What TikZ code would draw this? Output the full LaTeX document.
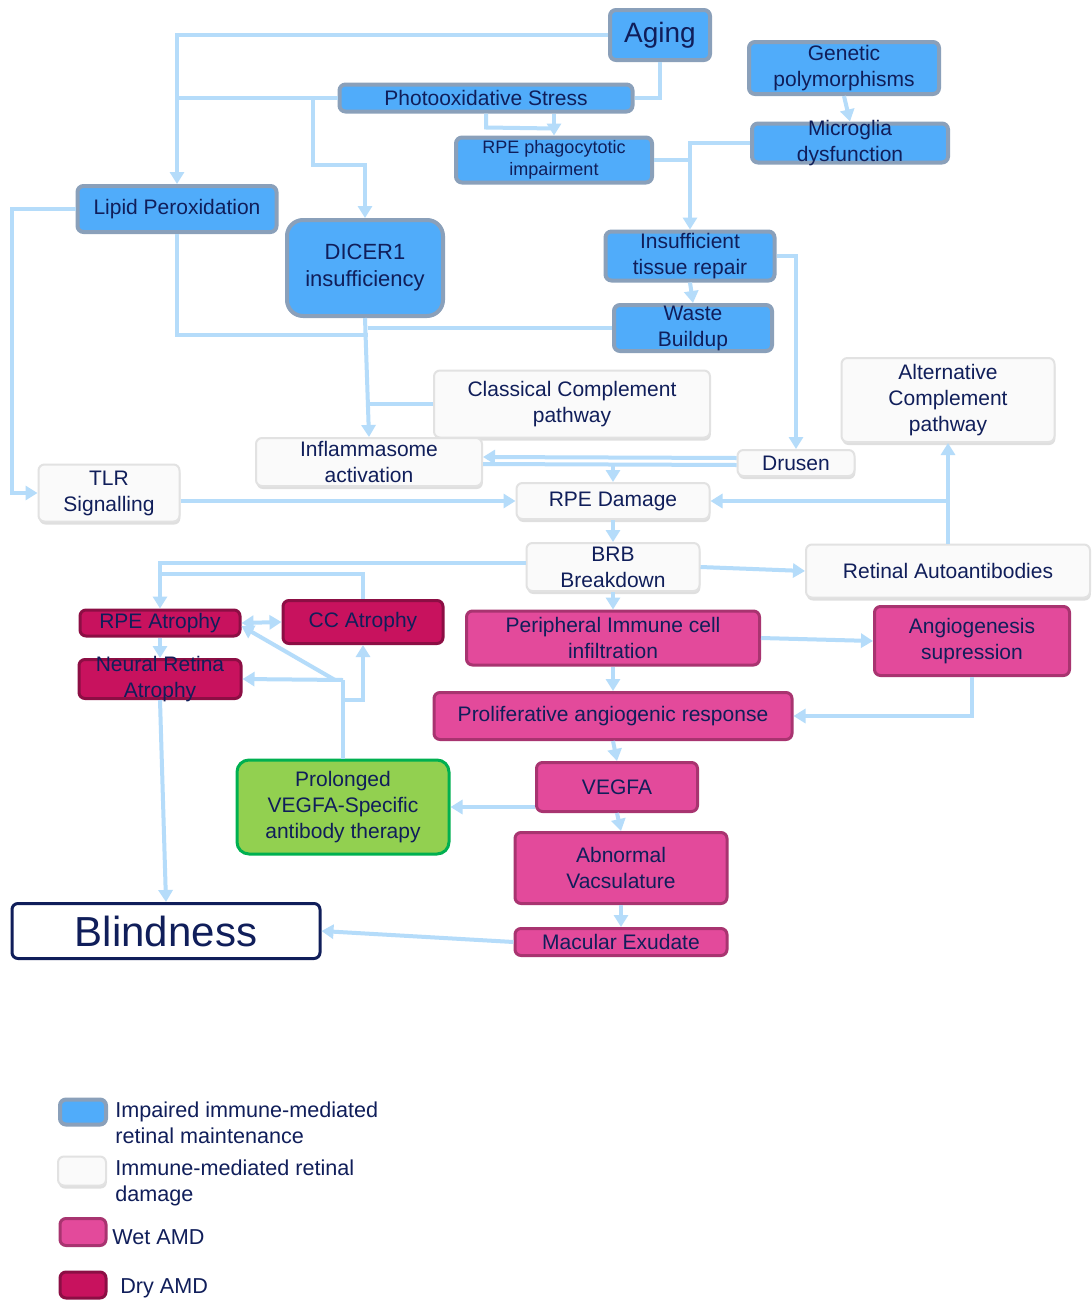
\documentclass[tikz,border=0pt]{standalone}
\usepackage{fontspec}
\setmainfont{Liberation Sans}
\usepackage{xcolor}
\usetikzlibrary{positioning}
\usetikzlibrary{arrows.meta,shadows}

\definecolor{linkblue}{RGB}{181,220,250}
\definecolor{cellblue}{RGB}{80,172,250}
\definecolor{cellblueedge}{RGB}{138,160,186}
\definecolor{cellwhite}{RGB}{250,250,250}
\definecolor{cellwhiteedge}{RGB}{226,226,226}
\definecolor{wetpink}{RGB}{227,74,155}
\definecolor{wetpinkedge}{RGB}{168,52,112}
\definecolor{drypink}{RGB}{200,18,94}
\definecolor{drypinkedge}{RGB}{140,14,68}
\definecolor{therapyfill}{RGB}{146,208,80}
\definecolor{therapyedge}{RGB}{0,176,80}
\definecolor{navytext}{RGB}{16,30,90}

\begin{document}
\begin{tikzpicture}[x=0.5pt,y=-0.5pt,
  wh/.style 2 args={minimum width=#1*0.5pt,minimum height=#2*0.5pt},
  cell/.style={rounded corners=3pt,align=center,inner sep=0pt,text=navytext,font=\fontsize{10.5}{13}\selectfont},
  impaired/.style={cell,fill=cellblue,draw=cellblueedge,line width=2pt},
  damage/.style={cell,fill=cellwhite,draw=cellwhiteedge,line width=1pt,drop shadow={opacity=0.25,shadow xshift=0.4pt,shadow yshift=-1.5pt}},
  wetamd/.style={cell,fill=wetpink,draw=wetpinkedge,line width=1.5pt},
  dryamd/.style={cell,fill=drypink,draw=drypinkedge,line width=1.5pt},
  keytext/.style={anchor=west,align=left,inner sep=0pt,text=navytext,font=\fontsize{10.8}{13}\selectfont},
  link/.style={draw=linkblue,line width=2pt},
  arr/.style={link,-{Triangle[width=7pt,length=6pt]}},
  dblarr/.style={link,{Triangle[width=7pt,length=6pt]}-{Triangle[width=7pt,length=6pt]}}
]
\fill[white] (0,0) rectangle (1092,1301);
\useasboundingbox (0,0) rectangle (1092,1301);

% impaired immune-mediated retinal maintenance
\node[impaired,wh={100}{50},font=\fontsize{14}{16}\selectfont] (aging) at (660,35) {Aging};
\node[impaired,wh={293}{27}] (photo) at (486,98) {Photooxidative Stress};
\node[impaired,wh={190}{52}] (genetic) at (844,68) {Genetic\\polymorphisms};
\node[impaired,wh={196}{39},inner ysep=-3pt] (microglia) at (850,143) {Microglia\\dysfunction};
\node[impaired,wh={196}{45},font=\fontsize{9}{11}\selectfont] (phago) at (554,160) {RPE phagocytotic\\impairment};
\node[impaired,wh={199}{46}] (lipid) at (177,209) {Lipid Peroxidation};
\node[impaired,wh={156}{96},rounded corners=8pt,font=\fontsize{11}{13.5}\selectfont] (dicer) at (365,268) {DICER1\\insufficiency};
\node[impaired,wh={169}{49}] (repair) at (690,256) {Insufficient\\tissue repair};
\node[impaired,wh={158}{46}] (waste) at (693,328) {Waste\\Buildup};

% immune-mediated retinal damage
\node[damage,wh={276}{67}] (classical) at (572,404) {Classical Complement\\pathway};
\node[damage,wh={213}{84}] (alternative) at (948,400) {Alternative\\Complement\\pathway};
\node[damage,wh={226}{48}] (inflamm) at (369,462) {Inflammasome\\activation};
\node[damage,wh={117}{26}] (drusen) at (796,463) {Drusen};
\node[damage,wh={141}{57}] (tlr) at (109,493) {TLR\\Signalling};
\node[damage,wh={193}{36}] (rpedmg) at (613,501) {RPE Damage};
\node[damage,wh={173}{48}] (brb) at (613,567) {BRB\\Breakdown};
\node[damage,wh={284}{53}] (autoab) at (948,571) {Retinal Autoantibodies};

% wet AMD
\node[wetamd,wh={293}{54}] (immune) at (613,638) {Peripheral Immune cell\\infiltration};
\node[wetamd,wh={195}{69}] (supress) at (972,641) {Angiogenesis\\supression};
\node[wetamd,wh={358}{47}] (prolif) at (613,716) {Proliferative angiogenic response};
\node[wetamd,wh={161}{49}] (vegfa) at (617,787) {VEGFA};
\node[wetamd,wh={212}{71}] (abnormal) at (621,868) {Abnormal\\Vacsulature};
\node[wetamd,wh={212}{27}] (exudate) at (621,942) {Macular Exudate};

% dry AMD
\node[dryamd,wh={160}{26}] (rpeatr) at (160,623) {RPE Atrophy};
\node[dryamd,wh={160}{43}] (ccatr) at (363,622) {CC Atrophy};
\node[dryamd,wh={162}{39},inner ysep=-3pt] (neuralatr) at (160,679) {Neural Retina\\Atrophy};

\node[cell,fill=therapyfill,draw=therapyedge,line width=1.5pt,rounded corners=6pt,wh={212}{94}] (therapy) at (343,807) {Prolonged\\VEGFA-Specific\\antibody therapy};
\node[cell,fill=white,draw=navytext,line width=1.5pt,wh={308}{55},font=\fontsize{21}{24}\selectfont] (blind) at (166,931) {Blindness};

% junctions
\coordinate (jleft) at (177,98);
\coordinate (jdicer) at (313,98);
\coordinate (jinfl) at (368,335);
\coordinate (jdmg) at (613,465);
\coordinate (jcc) at (160,574);
\coordinate (jther) at (343,680);
\coordinate (jccup) at (343,700);

% connectors
\draw[arr] (aging.west) -| (lipid.north);
\draw[link] (aging.south) |- (photo.east);
\draw[link] (photo.west) -- (jleft);
\draw[arr] (jdicer) -- ++(0,67) -| (dicer.north);
\draw[link] (photo.south) -- ++(0,14) -- ++(68,1);
\draw[arr] (phago.north |- photo.south) -- (phago.north);
\draw[link] (phago.east) -- (phago.east -| repair.north);
\draw[arr] (microglia.west) -| (repair.north);
\draw[arr] (genetic.south) -- (microglia.north);
\draw[arr] (repair.south) -- (waste.north);
\draw[arr] (repair.east) -| (drusen.north);
\draw[link] (lipid.south) |- (jinfl);
\draw[link] (waste.west) -- (waste.west -| jinfl);
\draw[link] (classical.west) -- (classical.west -| jinfl);
\draw[arr] (dicer.south) -- (inflamm.north);
\draw[arr] (lipid.west) -- ++(-64,0) |- (tlr.west);
\draw[arr] ([yshift=2.5pt]drusen.west) -- ([yshift=2.5pt]inflamm.east);
\draw[link] ([yshift=-1pt]drusen.west) -- ([yshift=-1pt]inflamm.east);
\draw[arr] (jdmg) -- (rpedmg.north);
\draw[arr] (tlr.east |- rpedmg.west) -- (rpedmg.west);
\draw[arr] (autoab.north) -- (alternative.south);
\draw[arr] (autoab.north |- rpedmg.east) -- (rpedmg.east);
\draw[arr] (rpedmg.south) -- (brb.north);
\draw[arr] (brb.east) -- (autoab.west);
\draw[arr] ([yshift=2pt]brb.west) -| (rpeatr.north);
\draw[link] (jcc) -| (ccatr.north);
\draw[arr] (brb.south) -- (immune.north);
\draw[arr] (rpeatr.south) -- (neuralatr.north);
\draw[dblarr] (rpeatr.east) -- (ccatr.west);
\draw[link] (therapy.north) -- (jther);
\draw[arr] (jther) -- (neuralatr.east);
\draw[arr] ([xshift=-4pt]jther) -- ([yshift=-1.5pt]rpeatr.east);
\draw[arr] (jccup) -| (ccatr.south);
\draw[arr] (neuralatr.south) -- (blind.north);
\draw[arr] (immune.east) -- (supress.west);
\draw[arr] (immune.south) -- (prolif.north);
\draw[arr] (supress.south) |- (prolif.east);
\draw[arr] (prolif.south) -- (vegfa.north);
\draw[arr] ([yshift=-10pt]vegfa.west) -- (therapy.east);
\draw[arr] (vegfa.south) -- (abnormal.north);
\draw[arr] (abnormal.south) -- (exudate.north);
\draw[arr] (exudate.west) -- (blind.east);

% legend
\node[impaired,wh={46}{25}] (keyblue) at (83,1112) {};
\node[keytext] (keybluetxt) at (115,1123) {Impaired immune-mediated\\retinal maintenance};
\node[damage,wh={48}{29}] (keywhite) at (82,1171) {};
\node[keytext] (keywhitetxt) at (115,1183) {Immune-mediated retinal\\damage};
\node[wetamd,wh={46}{27}] (keywet) at (83,1232) {};
\node[keytext] (keywettxt) at (112,1237) {Wet AMD};
\node[dryamd,wh={46}{26}] (keydry) at (83,1285) {};
\node[keytext] (keydrytxt) at (120,1288) {Dry AMD};
\end{tikzpicture}
\end{document}
